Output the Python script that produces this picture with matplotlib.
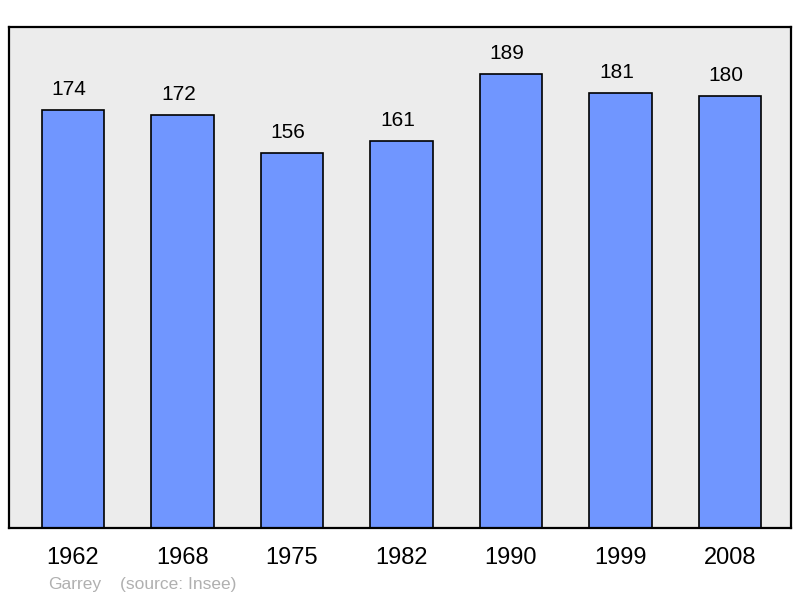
import matplotlib
matplotlib.use("Agg")
import matplotlib.pyplot as plt
import numpy as np

plt.rcParams['font.family'] = ['Liberation Sans', 'DejaVu Sans']

years = ['1962', '1968', '1975', '1982', '1990', '1999', '2008']
population = [174, 172, 156, 161, 189, 181, 180]

fig = plt.figure(figsize=(8, 5.98), dpi=100)
# axes box in pixels: left 9, right 791, top 27, bottom 528
ax = fig.add_axes([9 / 800, 1 - 528 / 598, 782 / 800, 501 / 598])
ax.set_facecolor('#ececec')

x = np.arange(len(years))
ax.bar(x, population, width=0.57, color='#7096ff', edgecolor='black', linewidth=1.2)

# value labels sit slightly left of the bar centre in the original
for xi, v in zip(x, population):
    ax.text(xi - 0.037, v + 8.6, str(v), ha='center', va='center', fontsize=15)

ax.set_xlim(-0.584, 6.557)
ax.set_ylim(0, 208.6)
ax.set_yticks([])
ax.set_xticks(x)
ax.set_xticklabels(years, fontsize=17)
ax.tick_params(axis='x', length=0, pad=13.5)
for s in ax.spines.values():
    s.set_linewidth(1.6)

fig.text(48 / 800, 1 - 584 / 598, 'Garrey', color='#b0b0b0',
         fontsize=12.5, va='center', ha='left')
fig.text(120 / 800, 1 - 584 / 598, '(source: Insee)', color='#b0b0b0',
         fontsize=12.5, va='center', ha='left')

fig.savefig('out.png', dpi=100)
